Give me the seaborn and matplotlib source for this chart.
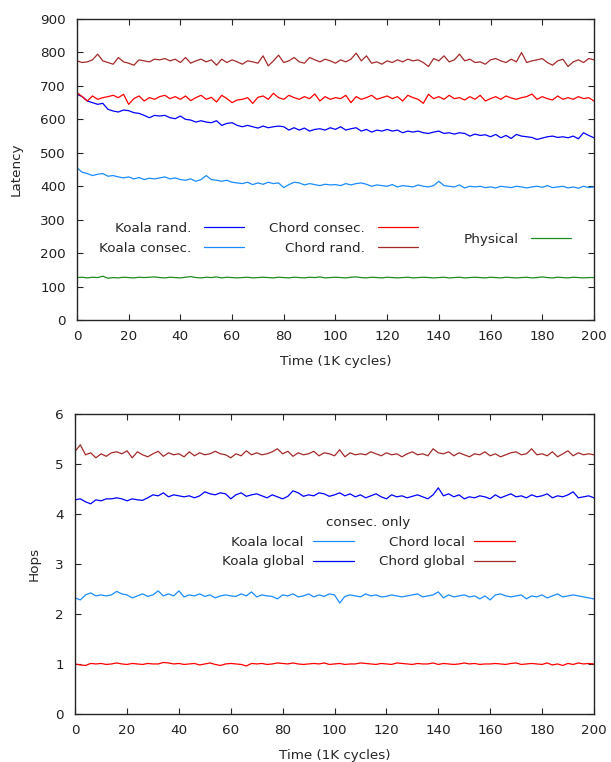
import matplotlib
matplotlib.use("Agg")
import matplotlib.pyplot as plt
import numpy as np
import pandas as pd
import seaborn as sns

# time axis, one sample every 2K cycles
time = np.arange(0, 201, 2)

# latency panel
koala_rand = [
    675, 668, 655, 650, 645, 648, 630, 625, 622, 628,
    626, 620, 618, 612, 605, 612, 610, 612, 605, 602,
    610, 600, 598, 592, 596, 592, 590, 596, 582, 588,
    590, 582, 578, 582, 578, 574, 580, 575, 578, 580,
    578, 568, 575, 568, 574, 565, 570, 572, 568, 575,
    570, 578, 568, 572, 575, 565, 570, 562, 568, 565,
    570, 565, 568, 560, 565, 562, 565, 560, 558, 562,
    565, 558, 560, 556, 560, 558, 550, 556, 552, 554,
    548, 555, 545, 552, 543, 555, 550, 548, 546, 540,
    544, 548, 550, 546, 548, 545, 550, 542, 560, 552,
    545]
koala_consec = [
    455, 442, 438, 432, 436, 438, 430, 432, 428, 425,
    428, 422, 426, 420, 424, 422, 425, 428, 422, 425,
    420, 418, 422, 415, 420, 432, 420, 418, 415, 418,
    412, 410, 408, 412, 405, 410, 406, 412, 408, 410,
    396, 405, 412, 410, 404, 408, 405, 402, 406, 404,
    405, 402, 408, 404, 408, 410, 406, 400, 404, 402,
    400, 405, 398, 402, 400, 398, 404, 400, 398, 402,
    415, 402, 400, 398, 404, 395, 400, 398, 400, 396,
    398, 395, 400, 398, 396, 400, 398, 395, 398, 400,
    397, 402, 396, 398, 400, 395, 398, 394, 400, 396,
    398]
chord_consec = [
    680, 668, 655, 670, 660, 665, 668, 672, 665, 675,
    645, 662, 670, 655, 665, 660, 668, 672, 662, 668,
    660, 670, 656, 665, 672, 660, 666, 652, 672, 662,
    650, 658, 660, 665, 648, 666, 670, 660, 678, 665,
    660, 672, 665, 660, 668, 662, 676, 655, 668, 660,
    665, 662, 672, 650, 668, 660, 665, 672, 660, 665,
    670, 662, 668, 655, 672, 665, 660, 648, 675, 662,
    668, 660, 672, 662, 665, 658, 668, 660, 672, 655,
    662, 668, 660, 670, 664, 660, 665, 668, 676, 660,
    668, 662, 658, 670, 660, 665, 660, 668, 662, 665,
    655]
chord_rand = [
    775, 770, 772, 778, 795, 775, 770, 765, 785, 772,
    768, 762, 778, 775, 772, 780, 778, 782, 775, 780,
    770, 785, 768, 775, 780, 772, 778, 762, 780, 770,
    778, 772, 765, 775, 772, 768, 790, 760, 775, 792,
    770, 775, 785, 772, 768, 785, 778, 772, 780, 775,
    768, 778, 772, 780, 798, 775, 790, 768, 772, 765,
    775, 770, 778, 772, 780, 775, 778, 770, 758, 782,
    775, 790, 772, 778, 795, 775, 780, 770, 772, 765,
    778, 782, 775, 770, 780, 772, 800, 770, 775, 778,
    782, 770, 762, 775, 780, 758, 772, 778, 770, 782,
    778]
physical = [
    127, 128, 126, 128, 127, 131, 125, 127, 126, 128,
    127, 126, 128, 127, 128, 129, 127, 126, 128, 127,
    126, 128, 130, 127, 126, 128, 127, 129, 126, 128,
    127, 126, 127, 128, 126, 127, 128, 127, 126, 128,
    127, 126, 128, 127, 126, 128, 127, 129, 126, 127,
    128, 127, 126, 128, 129, 127, 126, 128, 127, 126,
    128, 127, 126, 127, 128, 126, 127, 128, 127, 126,
    127, 128, 126, 127, 128, 126, 127, 128, 127, 126,
    128, 127, 126, 128, 127, 126, 127, 128, 126, 127,
    129, 127, 126, 128, 127, 126, 128, 127, 126, 127,
    127]

# hops panel
chord_global = [
    5.25, 5.38, 5.18, 5.22, 5.12, 5.20, 5.15, 5.22, 5.24, 5.20,
    5.26, 5.12, 5.24, 5.18, 5.14, 5.20, 5.25, 5.15, 5.22, 5.18,
    5.20, 5.14, 5.24, 5.16, 5.22, 5.18, 5.20, 5.25, 5.20, 5.18,
    5.12, 5.20, 5.16, 5.26, 5.18, 5.22, 5.18, 5.20, 5.24, 5.30,
    5.20, 5.25, 5.15, 5.22, 5.18, 5.20, 5.25, 5.16, 5.22, 5.20,
    5.16, 5.28, 5.14, 5.22, 5.18, 5.20, 5.18, 5.24, 5.20, 5.16,
    5.22, 5.18, 5.20, 5.14, 5.20, 5.24, 5.18, 5.20, 5.16, 5.30,
    5.22, 5.20, 5.24, 5.16, 5.22, 5.18, 5.14, 5.20, 5.18, 5.24,
    5.16, 5.20, 5.14, 5.18, 5.22, 5.24, 5.18, 5.20, 5.30, 5.18,
    5.20, 5.16, 5.24, 5.14, 5.20, 5.26, 5.16, 5.22, 5.18, 5.20,
    5.18]
koala_global = [
    4.28, 4.30, 4.24, 4.20, 4.28, 4.26, 4.30, 4.30, 4.32, 4.30,
    4.26, 4.30, 4.28, 4.27, 4.32, 4.38, 4.36, 4.42, 4.34, 4.38,
    4.36, 4.34, 4.36, 4.32, 4.36, 4.44, 4.40, 4.38, 4.42, 4.40,
    4.30, 4.38, 4.42, 4.35, 4.38, 4.40, 4.36, 4.32, 4.38, 4.34,
    4.30, 4.35, 4.46, 4.42, 4.35, 4.38, 4.36, 4.42, 4.40, 4.35,
    4.38, 4.42, 4.36, 4.40, 4.34, 4.38, 4.32, 4.36, 4.40, 4.34,
    4.30, 4.38, 4.34, 4.36, 4.32, 4.35, 4.38, 4.34, 4.30, 4.38,
    4.52, 4.36, 4.40, 4.34, 4.38, 4.30, 4.34, 4.32, 4.36, 4.34,
    4.30, 4.38, 4.32, 4.36, 4.40, 4.34, 4.36, 4.32, 4.38, 4.34,
    4.36, 4.40, 4.32, 4.36, 4.34, 4.38, 4.44, 4.32, 4.34, 4.36,
    4.32]
koala_local = [
    2.32, 2.28, 2.38, 2.42, 2.36, 2.38, 2.36, 2.38, 2.45, 2.40,
    2.38, 2.32, 2.36, 2.40, 2.35, 2.38, 2.46, 2.36, 2.40, 2.36,
    2.46, 2.34, 2.38, 2.36, 2.40, 2.35, 2.38, 2.32, 2.36, 2.38,
    2.36, 2.35, 2.40, 2.36, 2.44, 2.34, 2.38, 2.36, 2.35, 2.30,
    2.38, 2.36, 2.40, 2.34, 2.36, 2.40, 2.34, 2.38, 2.35, 2.40,
    2.38, 2.22, 2.35, 2.38, 2.36, 2.34, 2.40, 2.36, 2.38, 2.34,
    2.35, 2.38, 2.36, 2.34, 2.36, 2.38, 2.40, 2.34, 2.36, 2.38,
    2.44, 2.32, 2.38, 2.34, 2.36, 2.38, 2.34, 2.36, 2.30, 2.36,
    2.28, 2.38, 2.40, 2.36, 2.34, 2.36, 2.38, 2.30, 2.36, 2.34,
    2.38, 2.32, 2.36, 2.40, 2.34, 2.36, 2.38, 2.36, 2.34, 2.32,
    2.30]
chord_local = [
    1.00, 0.98, 0.97, 1.01, 1.00, 1.01, 0.99, 1.00, 1.02, 1.00,
    0.99, 1.01, 1.00, 0.99, 1.01, 1.00, 1.00, 1.03, 1.02, 1.00,
    1.01, 0.99, 1.00, 1.01, 0.98, 1.00, 1.02, 0.99, 0.97, 1.00,
    1.01, 1.00, 0.99, 0.96, 1.01, 1.00, 1.01, 0.99, 1.00, 1.02,
    1.01, 1.00, 1.02, 1.00, 0.99, 1.00, 1.01, 1.00, 1.02, 0.99,
    1.00, 1.01, 0.99, 1.00, 1.00, 1.02, 1.01, 1.00, 0.99, 1.01,
    1.00, 0.99, 1.02, 1.01, 1.00, 0.99, 1.01, 1.00, 1.00, 1.02,
    0.99, 1.01, 1.00, 0.99, 1.00, 1.02, 1.00, 1.01, 0.99, 1.00,
    1.00, 1.01, 1.00, 0.99, 1.01, 1.02, 0.99, 1.00, 1.01, 1.00,
    0.99, 1.02, 0.98, 1.00, 0.97, 1.01, 0.99, 1.02, 1.00, 1.01,
    1.00]

BLUE = "#0000ff"
LIGHT = "#1a8cff"
RED = "#ff0000"
BROWN = "#a52a2a"
GREEN = "#1e8c1e"
FS = 9.7

sns.set_style("ticks")
plt.rcParams["font.family"] = ["DejaVu Sans"]
plt.rcParams["font.size"] = FS
plt.rcParams["xtick.direction"] = "in"
plt.rcParams["ytick.direction"] = "in"

fig = plt.figure(figsize=(6.11, 7.62), dpi=100)
ax1 = fig.add_axes([0.126, 0.580, 0.846, 0.395])
ax2 = fig.add_axes([0.123, 0.063, 0.849, 0.394])


def draw(ax, series):
    for name, vals, col in series:
        df = pd.DataFrame({"t": time, "v": vals})
        sns.lineplot(data=df, x="t", y="v", ax=ax, color=col, lw=0.9,
                     label=name, legend=False)
    ax.set_xlim(0, 200)
    ax.set_xticks(np.arange(0, 201, 20))
    ax.tick_params(top=True, right=True, length=4, width=0.8, labelsize=FS,
                   labelcolor="#222222")
    ax.tick_params(axis="y", pad=8)
    ax.tick_params(axis="x", pad=7)
    for s in ax.spines.values():
        s.set_linewidth(1.0)
    ax.set_xlabel("Time (1K cycles)", fontsize=FS, labelpad=9)


draw(ax1, [("Koala rand.", koala_rand, BLUE),
           ("Koala consec.", koala_consec, LIGHT),
           ("Chord consec.", chord_consec, RED),
           ("Chord rand.", chord_rand, BROWN),
           ("Physical", physical, GREEN)])
ax1.set_ylim(0, 900)
ax1.set_yticks(np.arange(0, 901, 100))
ax1.set_ylabel("Latency", fontsize=FS, labelpad=13)

h = ax1.get_lines()
lkw = dict(frameon=False, markerfirst=False, fontsize=FS, handlelength=3.0,
           labelspacing=0.5, borderaxespad=0)
leg1 = ax1.legend([h[0], h[1], h[2], h[3]],
                  ["Koala rand.", "Koala consec.", "Chord consec.", "Chord rand."],
                  ncols=2, columnspacing=1.85, handletextpad=0.95,
                  loc="center right", bbox_to_anchor=(0.671, 0.272), **lkw)
ax1.add_artist(leg1)
ax1.legend([h[4]], ["Physical"], loc="center right", handletextpad=0.95,
           bbox_to_anchor=(0.967, 0.269), **lkw)

draw(ax2, [("Chord global", chord_global, BROWN),
           ("Koala global", koala_global, BLUE),
           ("Koala local", koala_local, LIGHT),
           ("Chord local", chord_local, RED)])
ax2.set_ylim(0, 6)
ax2.set_yticks(np.arange(0, 7, 1))
ax2.set_ylabel("Hops", fontsize=FS, labelpad=11)

g = ax2.get_lines()
ax2.legend([g[2], g[1], g[3], g[0]],
           ["Koala local", "Koala global", "Chord local", "Chord global"],
           ncols=2, columnspacing=1.9, handletextpad=0.7, loc="center right",
           title="consec. only", title_fontsize=FS,
           bbox_to_anchor=(0.858, 0.572), **lkw)

fig.savefig("out.png", dpi=100)
